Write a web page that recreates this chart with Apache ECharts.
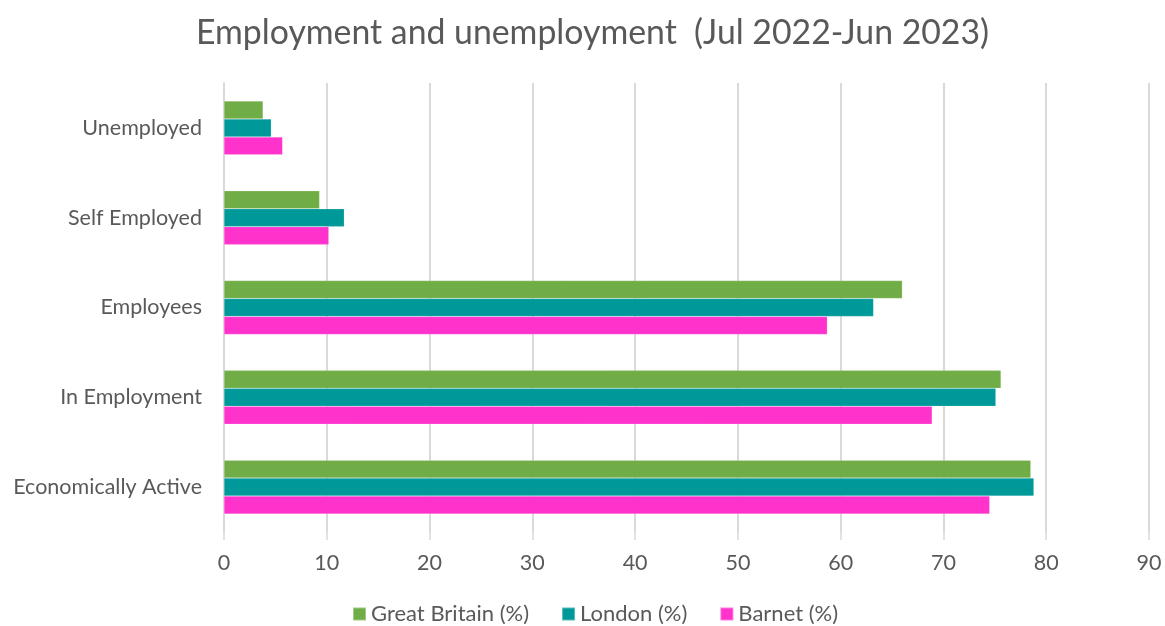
<!DOCTYPE html>
<html>
<head>
<meta charset="utf-8">
<script src="https://cdn.jsdelivr.net/npm/echarts@6/dist/echarts.min.js"></script>
<style>
  html, body { margin: 0; padding: 0; background: #ffffff; }
  #chart { width: 1165px; height: 626px; }
</style>
</head>
<body>
<div id="chart"></div>
<script>
// Labour market indicators, bottom to top on the category axis
const categories = ['Economically Active', 'In Employment', 'Employees', 'Self Employed', 'Unemployed'];
const greatBritain = [78.5, 75.6, 66.0, 9.3, 3.8];
const london = [78.8, 75.1, 63.2, 11.7, 4.6];
const barnet = [74.5, 68.9, 58.7, 10.2, 5.7];
const xTicks = [0, 10, 20, 30, 40, 50, 60, 70, 80, 90];

const FONT = 'Lato';
const TEXT = '#595959';

const chart = echarts.init(document.getElementById('chart'), null, { renderer: 'canvas' });

function barSeries(name, values, color) {
  return {
    name: name,
    type: 'bar',
    data: values,
    barGap: '0%',
    barCategoryGap: '40%',
    itemStyle: { color: color, borderColor: 'rgba(255,255,255,0.35)', borderWidth: 0.5 },
    emphasis: { disabled: true }
  };
}

chart.setOption({
  animation: false,
  backgroundColor: '#ffffff',
  textStyle: { fontFamily: FONT },
  title: {
    text: 'Employment and unemployment  (Jul 2022-Jun 2023)',
    left: 191,
    top: 11,
    textStyle: { fontFamily: FONT, fontSize: 33.8, fontWeight: 'normal', color: TEXT }
  },
  legend: {
    top: 598,
    left: 347,
    itemWidth: 13,
    itemHeight: 13,
    itemGap: 32,
    icon: 'rect',
    textStyle: { fontFamily: FONT, fontSize: 22, color: TEXT },
    data: ['Great Britain (%)', 'London (%)', 'Barnet (%)']
  },
  grid: { left: 224, right: 16, top: 83, bottom: 94, containLabel: false },
  xAxis: {
    type: 'value',
    min: xTicks[0],
    max: xTicks[xTicks.length - 1],
    interval: 10,
    axisLine: { show: false },
    axisTick: { show: true, length: 8, lineStyle: { color: '#d9d9d9', width: 1.5 } },
    axisLabel: { fontFamily: FONT, fontSize: 21.5, color: TEXT, margin: 20 },
    splitLine: { show: true, lineStyle: { color: '#d9d9d9', width: 2 } }
  },
  yAxis: {
    type: 'category',
    data: categories,
    axisLine: { show: true, lineStyle: { color: '#d9d9d9', width: 2 } },
    axisTick: { show: false },
    axisLabel: { fontFamily: FONT, fontSize: 21.5, color: TEXT, margin: 22 },
    splitLine: { show: false }
  },
  series: [
    barSeries('Great Britain (%)', greatBritain, '#70AD47'),
    barSeries('London (%)', london, '#009999'),
    barSeries('Barnet (%)', barnet, '#FF33CC')
  ]
});
</script>
</body>
</html>
